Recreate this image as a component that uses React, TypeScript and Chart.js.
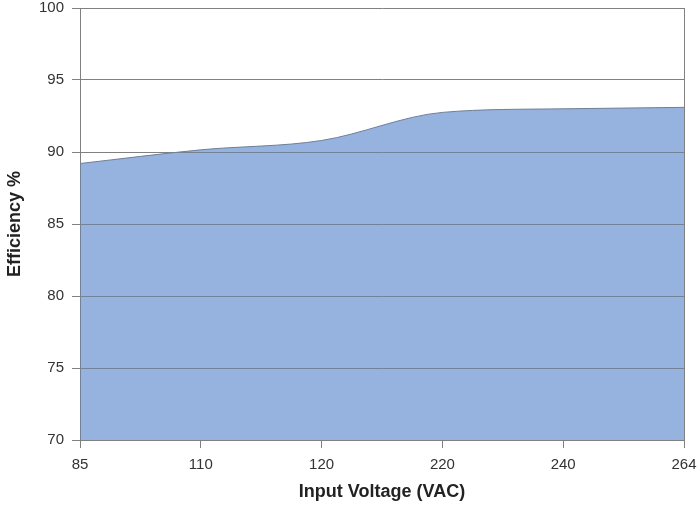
import React, { useEffect, useRef } from "react";
import { Chart, registerables } from "chart.js";

Chart.register(...registerables);

const voltageLabels = ["85", "110", "120", "220", "240", "264"];
const efficiencyValues = [89.2, 90.15, 90.8, 92.75, 93.0, 93.1];
const yMin = 70;
const yMax = 100;
const yStep = 5;

export default function App() {
  const ref = useRef<HTMLCanvasElement | null>(null);

  useEffect(() => {
    document.body.style.margin = "0";
    const canvas = ref.current;
    if (!canvas) return;
    const gridGray = "#808080";
    const chart = new Chart(canvas, {
      type: "line",
      data: {
        labels: voltageLabels,
        datasets: [
          {
            data: efficiencyValues,
            borderColor: "#7d7d7d",
            borderWidth: 1,
            backgroundColor: "#95b3de",
            fill: "start",
            pointRadius: 0,
            cubicInterpolationMode: "monotone",
          },
        ],
      },
      options: {
        animation: false,
        responsive: false,
        maintainAspectRatio: false,
        layout: { padding: { top: 0, right: 0, bottom: 0, left: 0 } },
        plugins: { legend: { display: false }, tooltip: { enabled: false } },
        scales: {
          x: {
            type: "category",
            offset: false,
            afterFit: (s: any) => {
              s.height = 68;
              s.paddingLeft = 0;
              s.paddingRight = 16;
            },
            grid: {
              z: 1,
              drawOnChartArea: true,
              color: (c: any) =>
                c.index === voltageLabels.length - 1 ? gridGray : "rgba(0,0,0,0)",
              tickColor: gridGray,
              tickLength: 8,
              lineWidth: 1,
            },
            border: { display: true, color: gridGray, z: 1 },
            ticks: {
              color: "#333",
              padding: 8,
              maxRotation: 0,
              autoSkip: false,
              font: { family: "'Liberation Sans', Arial, sans-serif", size: 15 },
            },
            title: {
              display: true,
              text: "Input Voltage (VAC)",
              color: "#222",
              padding: { top: 0, bottom: 5 },
              font: {
                family: "'Liberation Sans', Arial, sans-serif",
                size: 18,
                weight: "bold",
              },
            },
          },
          y: {
            min: yMin,
            max: yMax,
            afterFit: (s: any) => {
              s.width = 80;
              s.paddingTop = 8;
              s.paddingBottom = 0;
            },
            grid: {
              z: 1,
              color: gridGray,
              tickColor: gridGray,
              tickLength: 8,
              lineWidth: 1,
            },
            border: { display: true, color: gridGray, z: 1 },
            ticks: {
              stepSize: yStep,
              color: "#333",
              padding: 8,
              font: { family: "'Liberation Sans', Arial, sans-serif", size: 15 },
            },
            title: {
              display: true,
              text: "Efficiency %",
              color: "#222",
              padding: { top: 4, bottom: 0 },
              font: {
                family: "'Liberation Sans', Arial, sans-serif",
                size: 18,
                weight: "bold",
              },
            },
          },
        },
      },
    } as any);
    return () => chart.destroy();
  }, []);

  return (
    <div style={{ width: 700, height: 508 }}>
      <canvas ref={ref} width={700} height={508} style={{ display: "block" }} />
    </div>
  );
}
